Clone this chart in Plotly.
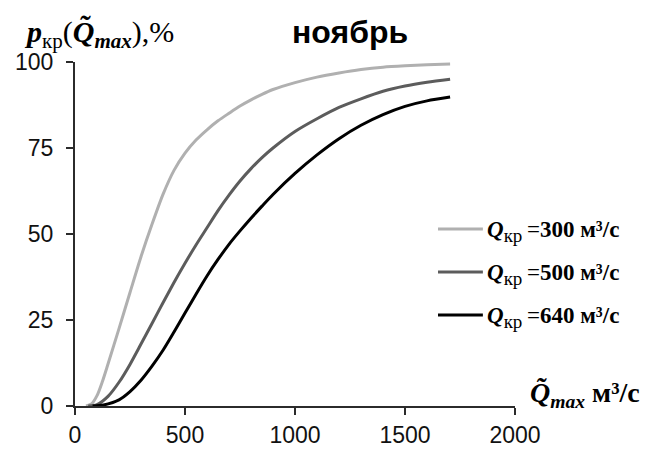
import plotly.graph_objects as go

# Data
q_300_x = [50, 75, 100, 125, 150, 200, 250, 300, 350, 400, 450, 500, 550, 600, 650, 700, 750, 800, 850, 900, 1000, 1100, 1200, 1300, 1400, 1500, 1600, 1705]
q_300_y = [0, 0.6, 3.0, 7.2, 12.2, 22.5, 33.0, 43.4, 52.8, 61.5, 68.5, 73.5, 77.3, 80.3, 82.9, 85.1, 87.2, 89.0, 90.6, 92.0, 94.0, 95.6, 96.8, 97.8, 98.5, 98.9, 99.2, 99.4]

q_500_x = [60, 100, 150, 200, 250, 300, 350, 400, 450, 500, 550, 600, 650, 700, 750, 800, 850, 900, 1000, 1100, 1200, 1300, 1400, 1500, 1600, 1705]
q_500_y = [0, 0.4, 2.8, 6.9, 12.1, 18.0, 24.0, 30.0, 35.9, 41.5, 46.8, 51.8, 56.8, 61.3, 65.4, 69.0, 72.2, 75.0, 79.8, 83.5, 86.8, 89.3, 91.5, 93.0, 94.1, 95.0]

q_640_x = [80, 130, 200, 250, 300, 350, 400, 450, 500, 550, 600, 650, 700, 750, 800, 850, 900, 1000, 1100, 1200, 1300, 1400, 1500, 1600, 1705]
q_640_y = [0, 0.3, 1.8, 4.2, 7.5, 11.6, 16.2, 21.5, 27.0, 32.5, 37.8, 42.6, 47.0, 50.9, 54.6, 58.1, 61.5, 67.6, 73.0, 77.7, 81.6, 84.7, 87.1, 88.7, 89.8]

series_names = [
    "<b><i>Q</i></b><sub><span style='font-size:19px'>кр</span></sub>\u2009=<b>300 м³/с</b>",
    "<b><i>Q</i></b><sub><span style='font-size:19px'>кр</span></sub>\u2009=<b>500 м³/с</b>",
    "<b><i>Q</i></b><sub><span style='font-size:19px'>кр</span></sub>\u2009=<b>640 м³/с</b>",
]
series_colors = ["#b0b0b0", "#5c5c5c", "#000000"]

x_ticks = [0, 500, 1000, 1500, 2000]
y_ticks = [0, 25, 50, 75, 100]

# legend row positions (paper fractions)
legend_rows = [0.5145, 0.3895, 0.2645]

fig = go.Figure()
for i, (xs, ys) in enumerate([(q_300_x, q_300_y), (q_500_x, q_500_y), (q_640_x, q_640_y)]):
    fig.add_trace(go.Scatter(
        x=xs, y=ys, mode="lines", name=series_names[i], showlegend=False,
        line=dict(color=series_colors[i], width=3, shape="spline", smoothing=0.8),
    ))
    fig.add_shape(type="line", xref="paper", yref="paper",
                  x0=0.825, x1=0.927, y0=legend_rows[i], y1=legend_rows[i],
                  line=dict(color=series_colors[i], width=3))
    fig.add_annotation(text=series_names[i], xref="paper", yref="paper",
                       x=0.932, y=legend_rows[i], xanchor="left", yanchor="middle",
                       showarrow=False, yshift=-2,
                       font=dict(family="Liberation Serif, Times New Roman", size=23, color="#000"))

axis_common = dict(
    showgrid=False, zeroline=False, showline=True, linecolor="#2b2b2b", linewidth=2,
    ticks="outside", ticklen=7, tickwidth=2, tickcolor="#2b2b2b", automargin=False,
    tickfont=dict(family="Liberation Sans, Arial", size=23, color="#111"),
)
fig.update_xaxes(range=[0, 2000], tickvals=x_ticks, **axis_common)
fig.update_yaxes(range=[0, 100], tickvals=y_ticks, ticklabelstandoff=8, **axis_common)

# the page body adds an 8px offset; margins compensate for it
fig.update_layout(
    width=655, height=449,
    margin=dict(l=67, r=148, t=54, b=51),
    paper_bgcolor="white", plot_bgcolor="white",
    showlegend=False,
)
fig.add_annotation(text="<b>ноябрь</b>", xref="paper", yref="paper", x=0.625, y=1.087,
                   showarrow=False, xanchor="center", yanchor="middle",
                   font=dict(family="Liberation Sans, Arial", size=32, color="#000"))
fig.add_annotation(text="<b><i>p</i></b><sub>кр</sub>(<b><i>Q̃<sub>max</sub></i></b>),%",
                   xref="paper", yref="paper", x=-0.1205, y=1.082,
                   showarrow=False, xanchor="left", yanchor="middle",
                   font=dict(family="Liberation Serif, Times New Roman", size=30, color="#000"))
fig.add_annotation(text="<b><i>Q̃<sub>max</sub></i></b> <b>м³/с</b>",
                   xref="paper", yref="paper", x=1.0295, y=0.032,
                   showarrow=False, xanchor="left", yanchor="middle",
                   font=dict(family="Liberation Serif, Times New Roman", size=28, color="#000"))

fig.write_html("out.html")
